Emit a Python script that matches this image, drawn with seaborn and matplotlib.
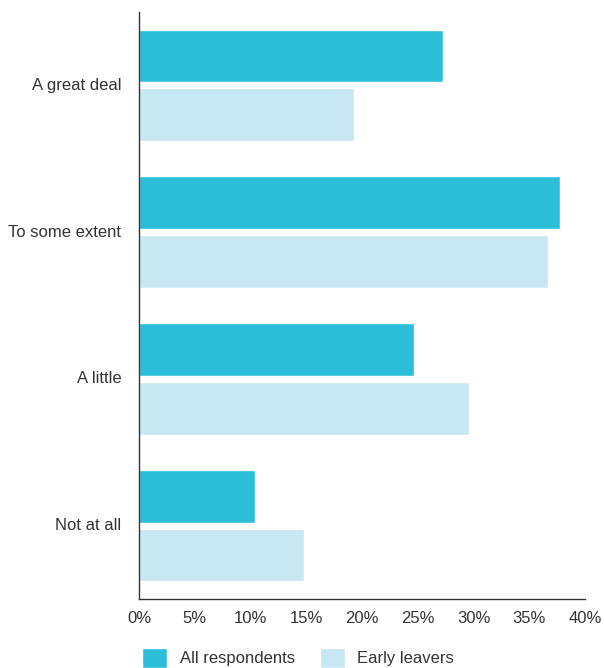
import matplotlib
matplotlib.use("Agg")
import matplotlib.pyplot as plt
import seaborn as sns
import pandas as pd

categories = ["A great deal", "To some extent", "A little", "Not at all"]
all_respondents = [27.3, 37.8, 24.7, 10.4]
early_leavers = [19.3, 36.7, 29.6, 14.8]
series_names = ["All respondents", "Early leavers"]
x_ticks = [0, 5, 10, 15, 20, 25, 30, 35, 40]
x_tick_labels = [f"{t}%" for t in x_ticks]

colors = ["#2cbdd8", "#c7e8f2"]
text_color = "#333333"

sns.set_theme(style="white")
plt.rcParams["font.family"] = ["Liberation Sans Narrow", "Liberation Sans", "DejaVu Sans"]

df = pd.DataFrame({
    "category": categories * 2,
    "value": all_respondents + early_leavers,
    "series": [series_names[0]] * len(categories) + [series_names[1]] * len(categories),
})

fig = plt.figure(figsize=(6.04, 6.68), dpi=100)
ax = fig.add_axes([0.2305, 0.1033, 0.738, 0.8787])

sns.barplot(
    data=df, y="category", x="value", hue="series", order=categories,
    hue_order=series_names, palette=colors, orient="h",
    width=0.8, gap=0.1, saturation=1, ax=ax, legend=True,
)

ax.set_xlim(0, 40)
ax.set_ylim(3.5, -0.5)
ax.set_xticks(x_ticks)
ax.set_xticklabels(x_tick_labels, fontsize=12, color=text_color)
ax.set_yticks(range(len(categories)))
ax.set_yticklabels(categories, fontsize=12, color=text_color, va="center")
ax.set_xlabel("")
ax.set_ylabel("")

for side in ["top", "right"]:
    ax.spines[side].set_visible(False)
for side in ["left", "bottom"]:
    ax.spines[side].set_color("#333333")
    ax.spines[side].set_linewidth(1.0)

ax.tick_params(axis="x", direction="in", length=10, width=1, color="#333333", pad=9)
ax.tick_params(axis="y", length=0, pad=13)

handles, labels = ax.get_legend_handles_labels()
ax.get_legend().remove()
fig.legend(
    handles, labels, loc="lower left", bbox_to_anchor=(142 / 604, 0.0),
    ncol=2, frameon=False, fontsize=12, handlelength=1.5, handleheight=1.5,
    handletextpad=0.75, columnspacing=1.5, borderpad=0, borderaxespad=0,
    labelcolor=text_color,
)

fig.savefig("out.png", dpi=100)
